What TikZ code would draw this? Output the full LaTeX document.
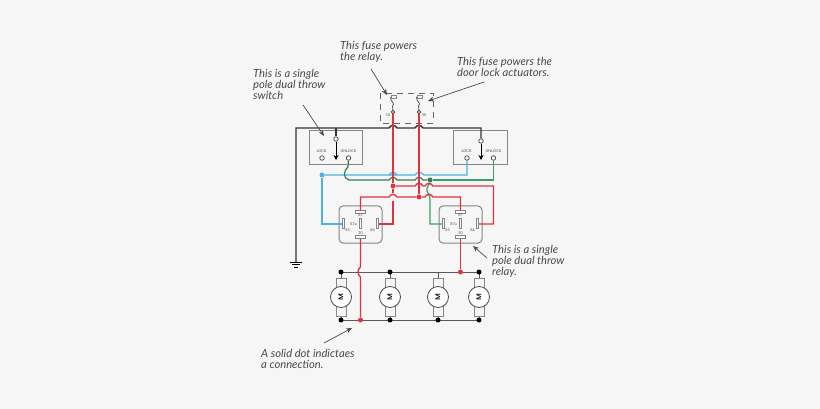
\documentclass[tikz,border=0pt]{standalone}
\usepackage{fontspec}
\setmainfont{Lato}
\usetikzlibrary{arrows.meta}

\definecolor{wirered}{HTML}{E2323C}
\definecolor{wireblue}{HTML}{4DB2E2}
\definecolor{wiregreen}{HTML}{2F8055}
\definecolor{wirelime}{HTML}{3D9E68}
\definecolor{wireblack}{HTML}{333333}
\definecolor{partgray}{HTML}{858585}
\definecolor{notegray}{HTML}{4A4A4A}
\definecolor{pagegray}{HTML}{F6F6F6}

\tikzset{
  redwire/.style={draw=wirered,line width=1.3pt},
  bluewire/.style={draw=wireblue,line width=1.2pt},
  greenwire/.style={draw=wiregreen,line width=1.2pt},
  limewire/.style={draw=wirelime,line width=1.2pt},
  blackwire/.style={draw=wireblack,line width=1.4pt},
  railwire/.style={draw=black!65,line width=0.9pt},
  partbox/.style={draw=partgray,line width=1pt,inner sep=0pt},
  pinbar/.style={partbox,fill=white,rectangle,minimum width=10pt,minimum height=2.4pt},
  pinpost/.style={partbox,fill=white,rectangle,minimum width=2.4pt,minimum height=10pt},
  terminal/.style={circle,draw=black!70,fill=white,line width=0.8pt,inner sep=0pt,minimum size=4.5pt},
  blackdot/.style={circle,fill=black,inner sep=0pt,minimum size=5pt},
  reddot/.style={circle,fill=wirered,inner sep=0pt,minimum size=5pt},
  tiny label/.style={font=\fontsize{3.8}{4}\selectfont,text=black!70,inner sep=0pt},
  note/.style={font=\itshape\fontsize{11.2}{11.2}\selectfont,text=notegray,align=left,anchor=north west,inner sep=0pt},
  pointer/.style={draw=notegray,line width=0.7pt,-{Stealth[length=6pt,width=5pt]}}
}

% hop over a crossing wire
\newcommand{\hoph}[2]{-- (#1-4,#2) .. controls (#1-2,#2-3.5) and (#1+2,#2-3.5) .. (#1+4,#2)}

\newcommand{\relayunit}[2]{
  \node[partbox,rectangle,rounded corners=4pt,minimum width=43pt,minimum height=37pt] (#1box) at (#2,224.5) {};
  \node[pinbar] (#1top) at (#2,212) {};
  \node[pinbar] (#1bot) at (#2,237) {};
  \node[pinpost] (#1mid) at (#2,224) {};
  \node[pinpost] (#1left) at (#2-17,224) {};
  \node[pinpost] (#1right) at (#2+17,224) {};
  \node[tiny label] at (#2,215.5) {87};
  \node[tiny label] at (#2,233.5) {30};
  \node[tiny label] at (#2-7,224) {87a};
  \node[tiny label] at (#2-13,230) {85};
  \node[tiny label] at (#2+12,230) {86};
}

\newcommand{\switchunit}[5]{
  \node[partbox,rectangle,minimum width=53.5pt,minimum height=34pt] (#1box) at (#2,148) {};
  \node[terminal] (#1com) at (#3,#5) {};
  \node[terminal] (#1lock) at (#4-13.5,158) {};
  \node[terminal] (#1unlock) at (#4+13,158) {};
  \node[tiny label] at (#4-14,151) {LOCK};
  \node[tiny label] at (#4+13,151) {UNLOCK};
  \draw[draw=black,line width=0.9pt,-{Stealth[length=5pt,width=5pt]}] (#1com) -- (#3,160);
}

\begin{document}
\begin{tikzpicture}[x=1pt,y=-1pt]
  \useasboundingbox[fill=pagegray] (0,0) rectangle (820,409);

  % fuses
  \draw[draw=black!60,line width=0.8pt,dash pattern=on 6pt off 5pt] (380,93) rectangle (433,123);
  \foreach \name/\xx in {fuseA/393,fuseB/419}{
    \node[terminal,minimum size=3.5pt] (\name) at (\xx,112) {};
    \node[partbox,rectangle,minimum width=5pt,minimum height=2.5pt] (\name-top) at (\xx+.5,97) {};
    \draw[draw=black!70,line width=0.7pt] (\name-top.west) .. controls (\xx-3,102) and (\xx+3,103) .. (\xx-.5,106) -- (\name);
  }
  \node[tiny label] at (388,115) {10};
  \node[tiny label] at (424,115) {30};

  % switches
  \switchunit{swA}{336}{336}{335.5}{139}
  \switchunit{swB}{480.5}{481}{480.5}{141}

  % relays
  \relayunit{relA}{360.5}
  \relayunit{relB}{460.5}

  % motors
  \coordinate (railTL) at (341,272);
  \coordinate (railTR) at (479,272);
  \coordinate (railBL) at (341,320);
  \coordinate (railBR) at (479,320);
  \foreach \name/\xx in {motA/341,motB/390,motC/438,motD/479}{
    \coordinate (\name-up) at (\xx,272);
    \coordinate (\name-down) at (\xx,320);
    \draw[railwire] (\name-up) -- (\name-down);
    \draw[partbox,fill=pagegray] (\xx-5,278) rectangle (\xx+5,316);
    \node[circle,draw=black!70,fill=white,line width=0.8pt,minimum size=21pt,inner sep=0pt] (\name) at (\xx,297) {};
    \node[rotate=90,font=\sffamily\bfseries\fontsize{7}{7}\selectfont,inner sep=0pt] at (\name) {M};
  }
  \draw[railwire] (railTL) -- (railTR);
  \draw[railwire] (railBL) -- (railBR);

  % ground
  \coordinate (gnd) at (296,262);
  \draw[draw=black,line width=0.9pt] (290,262) -- (302,262) (292,264.5) -- (300,264.5) (294,267) -- (298,267);

  % dots
  \node[blackdot] (dotTA) at (motA-up) {};
  \node[blackdot] (dotTB) at (motB-up) {};
  \node[blackdot] (dotTD) at (motD-up) {};
  \node[blackdot] (dotBA) at (motA-down) {};
  \node[blackdot] (dotBB) at (motB-down) {};
  \node[blackdot] (dotBC) at (motC-down) {};
  \node[blackdot] (dotBD) at (motD-down) {};
  \node[reddot] (dotF) at (393,186) {};
  \node[reddot] (dotG) at (419,197) {};
  \node[reddot] (dotH) at (360.5,320) {};
  \node[reddot] (dotI) at (460.5,272) {};
  \node[circle,fill=wireblue,inner sep=0pt,minimum size=5pt] (dotJ) at (322,175) {};
  \node[circle,fill=wiregreen,inner sep=0pt,minimum size=5pt] (dotK) at (430,180) {};

  % blue and green
  \draw[bluewire] (swBlock) |- (424,175) .. controls (421,171.5) and (417,171.5) .. (415,175)
    \hoph{393}{175} -- (dotJ);
  \draw[bluewire] (dotJ) |- (relAleft);
  \draw[greenwire] (swAunlock) -- (348,167) .. controls (343,172) and (343,178) .. (349,180)
    \hoph{393}{180} \hoph{419}{180} -- (dotK);
  \draw[limewire] (dotK) -| (swBunlock);
  \draw[limewire] (dotK) .. controls (430,184) and (426,187) .. (427,191) .. controls (428,194) and (430,195) .. (430,199) |- (relBleft);

  % black
  \draw[blackwire] (gnd) -- (296,128) \hoph{393}{128} \hoph{419}{128} -| (swBcom);
  \draw[blackwire] (336,128) -- (swAcom);

  % red
  \draw[redwire] (fuseA) -- (dotF);
  \draw[redwire] (fuseB) -- (dotG);
  \draw[redwire] (dotF) -- (393,193) (393,201) |- (relAright);
  \draw[redwire] (relAtop) -- (360.5,197) \hoph{393}{197} -- (dotG) \hoph{429}{197} -| (relBtop);
  \draw[redwire] (dotF) \hoph{419}{186} \hoph{429}{186} -| (493.5,224) -- (relBright);
  \draw[redwire] (relAbot) -- (360.5,267) .. controls (357,270) and (357,274) .. (360.5,277) -- (dotH);
  \draw[redwire] (relBbot) -- (dotI);

  % notes
  \node[note] (noteA) at (340,41) {This fuse powers\\the relay.};
  \node[note] (noteB) at (457,57) {This fuse powers the\\door lock actuators.};
  \node[note] (noteC) at (253,69) {This is a single\\pole dual throw\\switch};
  \node[note] (noteD) at (492,245) {This is a single\\pole dual throw\\relay.};
  \node[note] (noteE) at (261,349) {A solid dot indictaes\\a connection.};

  \coordinate (tipA) at (387,95);
  \coordinate (tipB) at (428,101);
  \coordinate (tipC) at (324,136);
  \coordinate (tipD) at (473,246);
  \coordinate (tipE) at (352,328);
  \draw[pointer] (371,69) -- (tipA);
  \draw[pointer] (484,82) -- (tipB);
  \draw[pointer] (303,105) -- (tipC);
  \draw[pointer] (487,258) -- (tipD);
  \draw[pointer] (324,343) -- (tipE);
\end{tikzpicture}
\end{document}
